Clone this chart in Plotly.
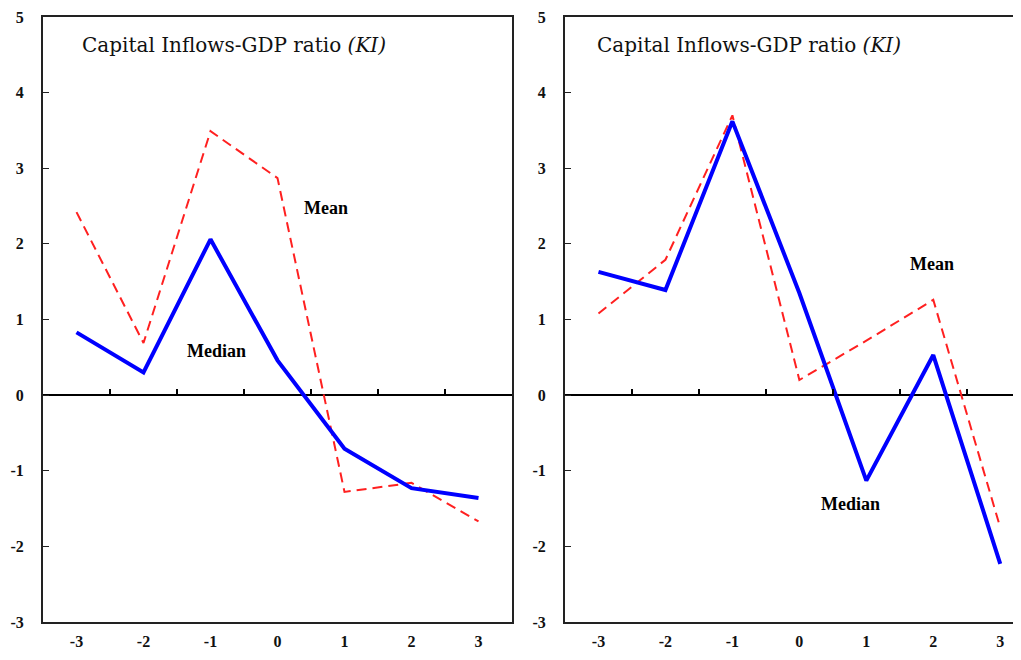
import plotly.graph_objects as go

periods = [-3, -2, -1, 0, 1, 2, 3]
left_median = [0.83, 0.30, 2.06, 0.46, -0.71, -1.23, -1.36]
left_mean = [2.42, 0.69, 3.49, 2.87, -1.28, -1.16, -1.67]
right_median = [1.63, 1.39, 3.62, 1.35, -1.13, 0.53, -2.23]
right_mean = [1.08, 1.79, 3.70, 0.20, 0.72, 1.26, -1.75]
y_ticks = [-3, -2, -1, 0, 1, 2, 3, 4, 5]
y_ticktext = ["-3", "-2", "-1", "0", "1", "2", "3", "4", "5"]
x_ticks = [-3, -2, -1, 0, 1, 2, 3]
x_ticktext = ["-3", "-2", "-1", "0", "1", "2", "3"]
mid_ticks = [-2.5, -1.5, -0.5, 0.5, 1.5, 2.5]
title_text = "Capital Inflows-GDP ratio <i>(KI)</i>"

FONT = "Liberation Serif"
OFF = 8  # default page body margin
W, H = 1021 - OFF, 660 - OFF
ml, mr, mt, mb = 43 - OFF, 0, 17 - OFF, 38
pw = W - ml - mr
d1 = [0, (512 - OFF - ml) / pw]
d2 = [(565 - OFF - ml) / pw, 1]

fig = go.Figure()
for xa, ya, med, mean in [("x", "y", left_median, left_mean), ("x2", "y2", right_median, right_mean)]:
    fig.add_trace(go.Scatter(x=periods, y=mean, mode="lines", xaxis=xa, yaxis=ya,
                             line=dict(color="#ff2020", width=2, dash="10px,6px"), showlegend=False))
    fig.add_trace(go.Scatter(x=periods, y=med, mode="lines", xaxis=xa, yaxis=ya,
                             line=dict(color="#0000ff", width=4), showlegend=False))

tickfont = dict(family=FONT, size=16, color="#111", weight="bold")
common_x = dict(tickvals=x_ticks, ticktext=x_ticktext, ticks="", showgrid=False, zeroline=False,
                showline=True, linecolor="#222", linewidth=2, tickfont=tickfont,
                ticklabelstandoff=4, automargin=False)
common_y = dict(range=[-3, 5], tickvals=y_ticks, ticktext=y_ticktext, ticks="inside", ticklen=6,
                tickcolor="#222", showgrid=False, zeroline=True, zerolinecolor="black",
                zerolinewidth=1.5, showline=True, linecolor="#222", linewidth=2, tickfont=tickfont,
                ticklabelstandoff=14, automargin=False)

fig.update_layout(
    width=W, height=H, margin=dict(l=ml, r=mr, t=mt, b=mb, autoexpand=False),
    plot_bgcolor="white", paper_bgcolor="white",
    xaxis=dict(domain=d1, range=[-3.5, 3.5], anchor="y", mirror=True, **common_x),
    yaxis=dict(domain=[0, 1], anchor="x", mirror=True, **common_y),
    xaxis2=dict(domain=d2, range=[-3.5, 3.31], anchor="y2", mirror=True, **common_x),
    yaxis2=dict(domain=[0, 1], anchor="x2", mirror=False, **common_y),
    xaxis3=dict(domain=d1, range=[-3.5, 3.5], overlaying="x", anchor="free", position=0.375,
                side="top", tickvals=mid_ticks, ticks="outside", ticklen=6, tickcolor="black",
                tickwidth=1.5, showticklabels=False, showline=False, showgrid=False,
                zeroline=False, automargin=False),
    xaxis4=dict(domain=d2, range=[-3.5, 3.31], overlaying="x2", anchor="free", position=0.375,
                side="top", tickvals=mid_ticks, ticks="outside", ticklen=6, tickcolor="black",
                tickwidth=1.5, showticklabels=False, showline=False, showgrid=False,
                zeroline=False, automargin=False),
)
fig.add_trace(go.Scatter(x=[None], y=[None], xaxis="x3", yaxis="y", showlegend=False, hoverinfo="skip"))
fig.add_trace(go.Scatter(x=[None], y=[None], xaxis="x4", yaxis="y2", showlegend=False, hoverinfo="skip"))

tfont = dict(family="DejaVu Serif", size=20, color="#111")
lfont = dict(family=FONT, size=18, color="black", weight="bold")
fig.add_annotation(text=title_text, xref="x domain", yref="y domain", x=0.079, y=0.954,
                   xanchor="left", yanchor="middle", showarrow=False, font=tfont)
fig.add_annotation(text=title_text, xref="x2 domain", yref="y2 domain", x=0.066, y=0.954,
                   xanchor="left", yanchor="middle", showarrow=False, font=tfont)
fig.add_annotation(text="Mean", xref="x", yref="y", x=0.72, y=2.47, showarrow=False, font=lfont)
fig.add_annotation(text="Median", xref="x", yref="y", x=-0.91, y=0.58, showarrow=False, font=lfont)
fig.add_annotation(text="Mean", xref="x2", yref="y2", x=1.98, y=1.73, showarrow=False, font=lfont)
fig.add_annotation(text="Median", xref="x2", yref="y2", x=0.77, y=-1.44, showarrow=False, font=lfont)

fig.write_html("out.html")
